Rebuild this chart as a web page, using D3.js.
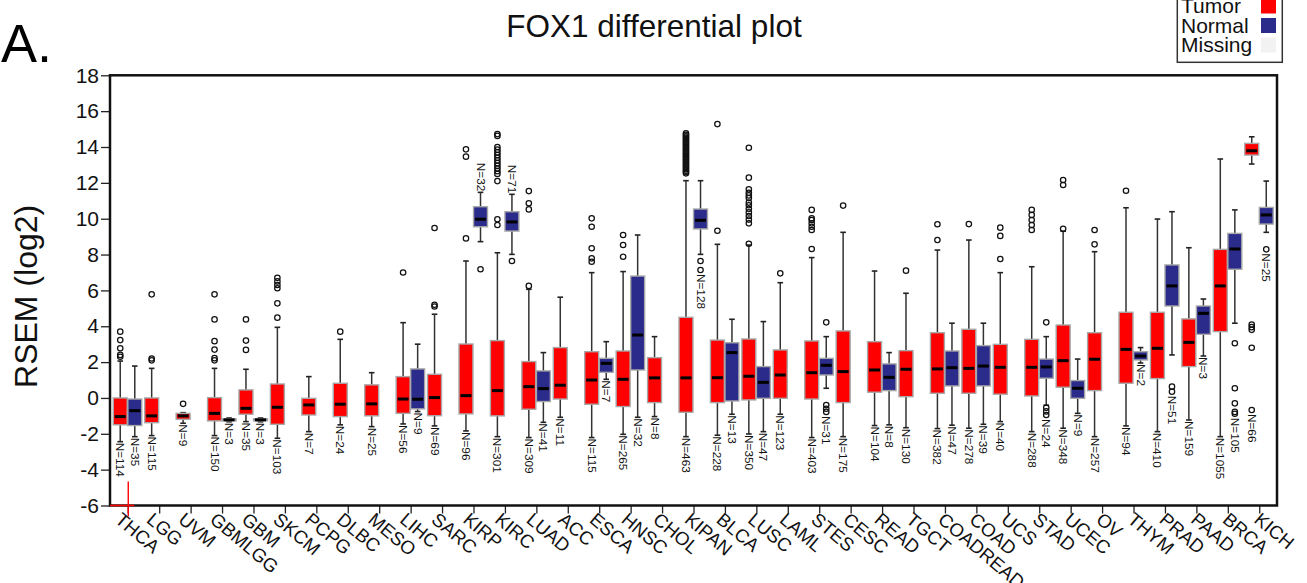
<!DOCTYPE html>
<html>
<head>
<meta charset="utf-8">
<script src="https://cdn.jsdelivr.net/npm/d3@7"></script>
<style>
  html, body { margin: 0; padding: 0; background: #fff; }
  svg { display: block; font-family: "Liberation Sans", Arial, sans-serif; }
</style>
</head>
<body>
<svg id="chart" width="1307" height="583"></svg>
<script>
// Cohorts along the x axis
const categories = ["THCA","LGG","UVM","GBMLGG","GBM","SKCM","PCPG","DLBC","MESO","LIHC","SARC",
  "KIRP","KIRC","LUAD","ACC","ESCA","HNSC","CHOL","KIPAN","BLCA","LUSC","LAML","STES","CESC",
  "READ","TGCT","COADREAD","COAD","UCS","STAD","UCEC","OV","THYM","PRAD","PAAD","BRCA","KICH"];

// Box summaries: [lower whisker, Q1, median, Q3, upper whisker]
const tumorBoxes = [
  [-2.44,-1.50,-1.04, 0.00, 2.06], // THCA
  [-2.10,-1.38,-1.00, 0.00, 1.65], // LGG
  [-1.41,-1.19,-1.00,-0.86,-0.82], // UVM
  [-2.10,-1.28,-0.86, 0.02, 1.65], // GBMLGG
  [-1.32,-0.91,-0.58, 0.45, 1.60], // GBM
  [-2.25,-1.47,-0.52, 0.78, 3.94], // SKCM
  [-1.88,-0.95,-0.39,-0.02, 1.19], // PCPG
  [-1.50,-1.04,-0.35, 0.82, 3.27], // DLBC
  [-1.60,-1.00,-0.33, 0.73, 1.41], // MESO
  [-1.45,-0.86,-0.06, 1.19, 4.20], // LIHC
  [-1.56,-0.99, 0.02, 1.32, 4.67], // SARC
  [-1.84,-0.89, 0.13, 3.01, 7.64], // KIRP
  [-2.16,-1.00, 0.41, 3.20, 8.10], // KIRC
  [-2.21,-0.63, 0.63, 2.03, 6.06], // LUAD
  [-1.08,-0.06, 0.71, 2.81, 5.62], // ACC
  [-2.21,-0.35, 1.00, 2.58, 6.99], // ESCA
  [-2.03,-0.48, 1.04, 2.62, 7.05], // HNSC
  [-1.04,-0.26, 1.12, 2.25, 3.42], // CHOL
  [-2.16,-0.80, 1.12, 4.50,12.12], // KIPAN
  [-2.08,-0.26, 1.13, 3.23, 8.57], // BLCA
  [-2.01,-0.11, 1.21, 3.29, 8.53], // LUSC
  [-0.91,-0.02, 1.28, 2.68, 6.43], // LAML
  [-2.21,-0.06, 1.41, 3.18, 7.83], // STES
  [-2.16,-0.26, 1.47, 3.74, 9.24], // CESC
  [-1.54, 0.32, 1.56, 3.14, 7.08], // READ
  [-1.66, 0.07, 1.60, 2.64, 5.84], // TGCT
  [-1.71, 0.26, 1.62, 3.64, 8.25], // COADREAD
  [-1.69, 0.26, 1.65, 3.83, 8.81], // COAD
  [-1.32, 0.21, 1.71, 2.99, 6.99], // UCS
  [-1.88, 0.11, 1.71, 3.27, 7.32], // STAD
  [-1.69, 0.60, 2.08, 4.07, 9.30], // UCEC
  [-2.16, 0.41, 2.16, 3.64, 8.16], // OV
  [-1.56, 0.82, 2.71, 4.78,10.61], // THYM
  [-1.88, 1.08, 2.77, 4.78, 9.98], // PRAD
  [-1.23, 1.75, 3.10, 4.41, 8.38], // PAAD
  [-2.16, 3.70, 6.25, 8.29,13.33], // BRCA
  [13.05,13.55,13.79,14.20,14.57]  // KICH
];
const normalBoxes = [
  [-2.16,-1.54,-0.71,-0.06, 1.78], // THCA
  null, null,
  [-1.33,-1.28,-1.22,-1.16,-1.12], // GBMLGG
  [-1.33,-1.28,-1.22,-1.16,-1.12], // GBM
  null, null, null, null,
  [-0.76,-0.61,-0.07, 1.62, 3.00], // LIHC
  null,
  [ 8.72, 9.55, 9.97,10.67,11.47], // KIRP
  [ 8.01, 9.31, 9.82,10.39,11.36], // KIRC
  [-1.36,-0.20, 0.52, 1.51, 2.53], // LUAD
  null,
  [ 1.04, 1.43, 1.93, 2.21, 3.14], // ESCA
  [-1.08, 1.56, 3.51, 6.80, 9.09], // HNSC
  null,
  [ 8.01, 9.43, 9.91,10.54,12.12], // KIPAN
  [-0.91,-0.17, 2.53, 3.08, 4.39], // BLCA
  [-1.88,-0.02, 0.87, 1.75, 4.26], // LUSC
  null,
  [ 0.54, 1.28, 1.82, 2.21, 3.42], // STES
  null,
  [-1.50, 0.41, 1.15, 1.90, 2.53], // READ
  null,
  [-1.52, 0.67, 1.69, 2.62, 4.17], // COADREAD
  [-1.47, 0.67, 1.78, 2.92, 4.17], // COAD
  null,
  [-0.40, 1.10, 1.73, 2.17, 3.42], // STAD
  [-0.86,-0.02, 0.54, 0.97, 2.17], // UCEC
  null,
  [ 1.95, 2.12, 2.34, 2.58, 2.81], // THYM
  [ 2.40, 5.13, 6.25, 7.42,10.39], // PRAD
  [ 2.34, 3.55, 4.72, 5.13, 5.52], // PAAD
  [ 4.17, 7.18, 8.31, 9.18,10.49], // BRCA
  [ 9.24, 9.70,10.21,10.63,12.10]  // KICH
];

// Sample counts
const tumorN  = [114,115,9,150,35,103,7,24,25,56,69,96,301,309,11,115,265,8,463,228,350,123,403,175,
  104,130,382,278,40,288,348,257,94,410,159,1055,66];
const normalN = [35,null,null,3,3,null,null,null,null,9,null,32,71,41,null,7,32,null,128,13,47,null,31,null,
  8,null,47,39,null,24,9,null,2,51,3,105,25];

// Points beyond the whiskers
const tumorOutliers = [
  [3.70,3.23,2.77,2.40,2.30],                 // THCA
  [5.78,2.20,2.10],                           // LGG
  [-0.33],                                    // UVM
  [5.78,4.38,3.17,2.70,2.22,2.10],            // GBMLGG
  [4.38,3.20,2.68],                           // GBM
  [6.70,6.50,6.30,6.12,5.28,4.48],            // SKCM
  [],                                         // PCPG
  [3.70],                                     // DLBC
  [],                                         // MESO
  [7.00],                                     // LIHC
  [9.48,5.20,5.10],                           // SARC
  [13.87,13.46,8.90],                         // KIRP
  [14.72,14.62,14.00,13.85,13.70,13.55,13.40,13.25,13.10,12.95,12.80,12.65,12.50,12.10,9.97,9.65], // KIRC
  [11.54,10.86,10.52,6.25],                   // LUAD
  [],                                         // ACC
  [10.02,9.55,8.35,7.79,7.60],                // ESCA
  [9.09,8.53,7.88],                           // HNSC
  [],                                         // CHOL
  [14.76,14.68,14.60,14.52,14.44,14.36,14.28,14.20,14.12,14.04,13.96,13.88,13.80,13.72,13.64,
   13.56,13.48,13.40,13.32,13.24,13.16,13.08,13.00,12.92,12.84,12.76,12.68,12.60,12.53], // KIPAN
  [15.28,9.33],                               // BLCA
  [13.96,12.29,11.64,11.45,11.30,11.15,10.90,10.75,10.55,10.35,10.15,9.95,9.74,8.60], // LUSC
  [6.95],                                     // LAML
  [10.49,10.02,9.93,9.74,9.55,9.37,8.31],     // STES
  [10.73],                                    // CESC
  [],                                         // READ
  [7.10],                                     // TGCT
  [9.69,8.81],                                // COADREAD
  [9.70],                                     // COAD
  [9.50,9.04,7.75],                           // UCS
  [10.49,10.21,9.93,9.65,9.37],               // STAD
  [12.16,11.88,9.44],                         // UCEC
  [9.37,8.57],                                // OV
  [11.56],                                    // THYM
  [],                                         // PRAD
  [],                                         // PAAD
  [],                                         // BRCA
  [4.10,3.95,3.80,2.80,-0.67]                 // KICH
];
const normalOutliers = [
  [], [], [], [], [], [], [], [], [], [], [],
  [7.18],                                     // KIRP
  [7.64],                                     // KIRC
  [], [], [], [], [],
  [7.64,7.14],                                // KIPAN
  [], [], [],
  [4.22,-0.40,-0.60,-0.78],                   // STES
  [], [], [], [], [], [],
  [4.22,-0.55,-0.75,-0.95],                   // STAD
  [], [], [],
  [0.63,0.35],                                // PRAD
  [],
  [3.05,0.54,-0.30,-0.78,-0.88],              // BRCA
  [8.29]                                      // KICH
];

const yTicks = [-6,-4,-2,0,2,4,6,8,10,12,14,16,18];
const groups = ["Tumor","Normal","Missing"];

// ---- layout ----
const plot = { left: 110, right: 1277, top: 75.3, bottom: 505.5 };
const svg = d3.select("#chart");

const x = d3.scalePoint().domain(categories).range([plot.left, plot.right]).padding(0.565);
// tick labels sit on a slightly wider spacing than the ticks themselves
const xLabel = d3.scalePoint().domain(categories).range([plot.left + 3, plot.right + 11]).padding(0.565);
const sub = d3.scaleBand().domain(["Tumor","Normal"]).range([-14.5, 14]).paddingInner(0.04);
const y = d3.scaleLinear().domain([-6, 18]).range([plot.bottom, plot.top]);
const color = d3.scaleOrdinal().domain(groups).range(["#FF0000", "#2B2B8C", "#F2F2F2"]);

// Flatten into one record per drawn box
const records = [];
categories.forEach((c, i) => {
  records.push({ cat: c, group: "Tumor", s: tumorBoxes[i], n: tumorN[i], out: tumorOutliers[i] });
  if (normalBoxes[i]) records.push({ cat: c, group: "Normal", s: normalBoxes[i], n: normalN[i], out: normalOutliers[i] });
});
const cx = d => x(d.cat) + sub(d.group) + sub.bandwidth() / 2;
const bw = sub.bandwidth();
const labelAbove = new Set(["KIRP|Normal", "KIRC|Normal"]);

// ---- title and panel letter ----
svg.append("text").attr("x", 1).attr("y", 61.7)
  .attr("font-size", 54).attr("fill", "#000").text("A.");
svg.append("text").attr("x", 654).attr("y", 36.7).attr("text-anchor", "middle")
  .attr("font-size", 31.5).attr("fill", "#111").text("FOX1 differential plot");

// ---- axes ----
const yAxis = d3.axisLeft(y).tickValues(yTicks).tickSize(9).tickPadding(2).tickFormat(d => String(d));
const gy = svg.append("g").attr("transform", `translate(${plot.left},0)`).call(yAxis);
gy.select(".domain").remove();
gy.selectAll(".tick line").attr("stroke", "#222").attr("stroke-width", 1.3);
gy.selectAll(".tick text").attr("font-size", 21).attr("fill", "#111")
  .attr("font-family", "'Liberation Sans', Arial, sans-serif");

const xAxis = d3.axisBottom(x).tickSize(8);
const gx = svg.append("g").attr("transform", `translate(0,${plot.bottom})`).call(xAxis);
gx.select(".domain").remove();
gx.selectAll(".tick line").attr("stroke", "#222").attr("stroke-width", 1.3);
gx.selectAll(".tick text")
  .attr("x", 0).attr("y", 0).attr("dy", null)
  .attr("text-anchor", "start")
  .attr("transform", d => `translate(${xLabel(d) - x(d) - 17.5},16) rotate(40)`)
  .attr("font-size", 18.7).attr("fill", "#111")
  .attr("font-family", "'Liberation Sans', Arial, sans-serif");

svg.append("text")
  .attr("transform", `translate(37,${(plot.top + plot.bottom) / 2 + 6}) rotate(-90)`)
  .attr("text-anchor", "middle").attr("font-size", 32).attr("fill", "#111")
  .text("RSEM (log2)");

// ---- boxes ----
const gb = svg.append("g");
const box = gb.selectAll("g.box").data(records).join("g").attr("class", "box");

// whiskers
box.append("line").attr("x1", cx).attr("x2", cx)
  .attr("y1", d => y(d.s[0])).attr("y2", d => y(d.s[4]))
  .attr("stroke", "#333").attr("stroke-width", 1.5);
[0, 4].forEach(k => {
  box.append("line")
    .attr("x1", d => cx(d) - 2.8).attr("x2", d => cx(d) + 2.8)
    .attr("y1", d => y(d.s[k])).attr("y2", d => y(d.s[k]))
    .attr("stroke", "#222").attr("stroke-width", 1.6);
});
// interquartile box
box.append("rect")
  .attr("x", d => cx(d) - bw / 2).attr("width", bw)
  .attr("y", d => y(d.s[3])).attr("height", d => Math.max(1, y(d.s[1]) - y(d.s[3])))
  .attr("fill", d => color(d.group)).attr("stroke", "#A8A8A8").attr("stroke-width", 1.4);
// median
box.append("line")
  .attr("x1", d => cx(d) - bw / 2 + 1.5).attr("x2", d => cx(d) + bw / 2 - 1.5)
  .attr("y1", d => y(d.s[2])).attr("y2", d => y(d.s[2]))
  .attr("stroke", "#000").attr("stroke-width", 3);
// outliers
box.selectAll("circle").data(d => d.out.map(v => ({ v, d }))).join("circle")
  .attr("cx", o => cx(o.d)).attr("cy", o => y(o.v)).attr("r", 2.7)
  .attr("fill", "none").attr("stroke", "#111").attr("stroke-width", 1.25);

// sample count labels
box.append("text")
  .attr("font-size", 11.8).attr("fill", "#111")
  .attr("dominant-baseline", "central")
  .attr("text-anchor", d => labelAbove.has(d.cat + "|" + d.group) ? "end" : "start")
  .attr("transform", d => {
    let yy;
    if (labelAbove.has(d.cat + "|" + d.group)) {
      yy = y(d.s[4]) - 1;
    } else {
      const below = d.out.filter(v => v < d.s[0]);
      yy = below.length ? y(d3.min(below)) + 4 : y(d.s[0]) + 1;
    }
    return `translate(${cx(d)},${yy}) rotate(90)`;
  })
  .text(d => "N=" + d.n);

// ---- frame ----
svg.append("rect")
  .attr("x", plot.left).attr("y", plot.top)
  .attr("width", plot.right - plot.left).attr("height", plot.bottom - plot.top)
  .attr("fill", "none").attr("stroke", "#111").attr("stroke-width", 2.5);

// red marker at the first cohort
svg.append("line").attr("x1", plot.left).attr("x2", x(categories[0]) + 6.5)
  .attr("y1", plot.bottom).attr("y2", plot.bottom)
  .attr("stroke", "#FF0000").attr("stroke-width", 1.6);
svg.append("line").attr("x1", x(categories[0]) + 0.5).attr("x2", x(categories[0]) + 0.5)
  .attr("y1", plot.bottom - 24).attr("y2", plot.bottom + 11)
  .attr("stroke", "#FF0000").attr("stroke-width", 1.4);

// ---- legend ----
const lg = svg.append("g").attr("transform", "translate(1177.3,0)");
lg.append("rect").attr("x", 0).attr("y", -8).attr("width", 105).attr("height", 70.3)
  .attr("fill", "#fff").attr("stroke", "#333").attr("stroke-width", 1.5);
const li = lg.selectAll("g.item").data(groups).join("g").attr("class", "item")
  .attr("transform", (d, i) => `translate(0,${i * 19.5})`);
li.append("text").attr("x", 3.7).attr("y", 13.3).attr("font-size", 21).attr("fill", "#111").text(d => d);
li.append("rect").attr("x", 83.7).attr("y", -1.5).attr("width", 15).attr("height", 15)
  .attr("fill", d => color(d));
</script>
</body>
</html>
